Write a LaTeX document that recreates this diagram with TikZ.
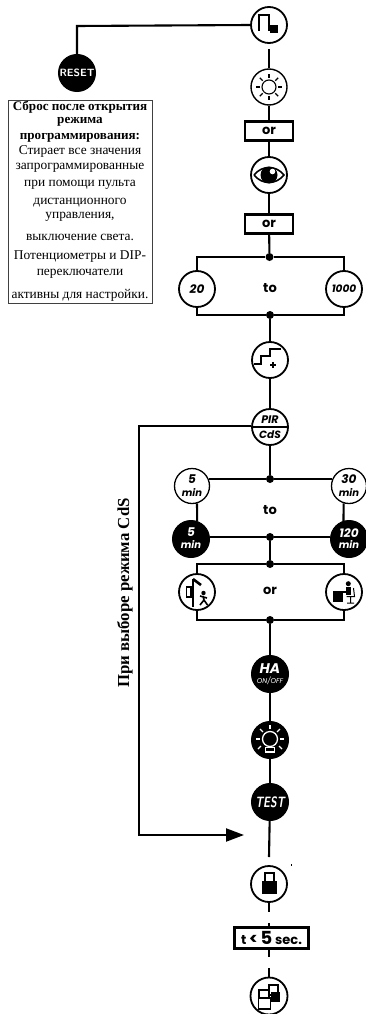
\documentclass[tikz,border=0pt]{standalone}
\usepackage{fontspec}
\setmainfont{Liberation Serif}
\newfontfamily\signfont{Poppins}
\usetikzlibrary{arrows.meta}

\newcommand{\fs}[1]{\fontsize{#1}{#1}\selectfont}

\tikzset{
  wire/.style={line width=2.1pt},
  sign/.style={circle,draw,line width=1.8pt,fill=white,minimum size=36pt,inner sep=0pt,font=\signfont\bfseries\itshape\fs{11}},
  blacksign/.style={circle,draw,line width=1pt,fill=black,text=white,minimum size=37pt,inner sep=0pt,font=\signfont\bfseries\itshape\fs{11}},
  orbox/.style={draw,line width=2.4pt,fill=white,minimum width=48pt,minimum height=19pt,inner sep=0pt,font=\signfont\bfseries\fs{13}},
  junction/.style={circle,fill=black,minimum size=8pt,inner sep=0pt},
  word/.style={font=\signfont\bfseries\fs{13}},
  noteb/.style={font=\bfseries\fs{13.1}},
  noter/.style={font=\fs{13.4}}
}

\begin{document}
\begin{tikzpicture}[x=1pt,y=-1pt,>={Triangle[length=18pt,width=13pt]}]
\useasboundingbox (0,0) rectangle (366,1014);

% left side
\node[blacksign,font=\sffamily\bfseries\fs{10.5}] (reset) at (77,73) {RESET};
\node[draw,line width=1pt,draw=black!75,minimum width=144pt,minimum height=203pt,inner sep=0pt] (notebox) at (80,202) {};
\foreach \y/\t in {107/Сброс после открытия,122/режима,138/программирования:}
    \node[noteb] (noteb-\y) at (80,\y) {\t};
\foreach \y/\t in {151/Стирает все значения,168/запрограммированные,185/при помощи пульта,203/дистанционного,217/{управления,},237/выключение света.,257/Потенциометры и DIP-,274/переключатели,295/активны для настройки.}
    \node[noter] (noter-\y) at (80,\y) {\t};

% main column
\node[sign] (open) at (269,25) {};
\node[sign,line width=1.4pt] (sun) at (269,87) {};
\node[orbox] (or1) at (269,131) {or};
\node[sign] (eye) at (269,175) {};
\node[orbox] (or2) at (269,224) {or};
\node[junction] (j1) at (269.5,257) {};
\node[sign,font=\signfont\bfseries\itshape\fs{12}] (v20) at (197,289) {20};
\node[sign,font=\signfont\bfseries\itshape\fs{10.5}] (v1000) at (344,289) {1000};
\node[word] (to1) at (270,288) {to};
\node[junction] (j2) at (270,315) {};
\node[sign] (stairs) at (270,360) {};
\node[sign] (pir) at (270,427) {};
\node[junction] (j3) at (270,479) {};
\node[sign,minimum size=35pt,line width=1.3pt] (w5) at (192,486) {};
\node[sign,minimum size=35pt,line width=1.3pt] (w30) at (349,486) {};
\node[blacksign] (k5) at (191,539) {};
\node[blacksign] (k120) at (349,539) {};
\node[word] (to2) at (270,510) {to};
\node[junction] (j4) at (270,537) {};
\node[junction] (j5) at (270,564) {};
\node[sign] (door) at (197,592) {};
\node[sign] (desk) at (344,592) {};
\node[word] (or3) at (270,591) {or};
\node[junction] (j6) at (270,620) {};
\node[blacksign] (ha) at (270,674) {};
\node[blacksign] (bulb) at (270,740) {};
\node[blacksign] (test) at (270,802) {};
\node[sign] (lock) at (269,884) {};
\node[orbox,minimum width=74pt,minimum height=21pt,font=\signfont\bfseries\fs{13}] (tbox) at (271.5,938) {t {\fs{16}<} {\fs{18}5} sec.};
\node[sign,minimum size=37pt] (close) at (269,996) {};

% free ends of the broken line
\coordinate (gap1) at (269,49);
\coordinate (gap2) at (269,857);
\coordinate (gap3) at (269,912);
\coordinate (gap4) at (269,923);
\coordinate (gap5) at (269,957);
\coordinate (gap6) at (269,968);
\coordinate (corner1) at (77,26);
\coordinate (corner2) at (139,426);
\coordinate (corner3) at (139,835);
\coordinate (tip) at (244,835);
\coordinate (tbtop) at (269,927);
\coordinate (tbbot) at (269,949);

\draw[wire] (open.west) -- (corner1) -- (reset);
\draw[wire] (gap1) -- (sun);
\draw[wire] (sun) -- (or1);
\draw[wire] (or1) -- (eye);
\draw[wire] (eye) -- (or2);
\draw[wire] (or2) -- (j1);
\draw[wire] (v20) |- (j1) -| (v1000);
\draw[wire] (v20) |- (j2) -| (v1000);
\draw[wire] (j2) -- (stairs);
\draw[wire] (stairs) -- (pir);
\draw[wire] (pir) -- (j3);
\draw[wire] (w5.24 |- j3) -- (j3) -- (w30.156 |- j3);
\draw[wire] (w5.-74) -- (k5.71);
\draw[wire] (w30.-107) -- (k120.107);
\draw[wire] (k5.4 |- j4) -- (j4) -- (k120.176 |- j4);
\draw[wire] (j4) -- (j5);
\draw[wire] (door) |- (j5) -| (desk);
\draw[wire] (door) |- (j6) -| (desk);
\draw[wire] (j6) -- (ha);
\draw[wire] (ha) -- (bulb);
\draw[wire] (bulb) -- (test);
\draw[wire] (test) -- (gap2);
\draw[wire] (lock) -- (gap3);
\draw[wire] (gap4) -- (tbtop);
\draw[wire] (tbbot) -- (gap5);
\draw[wire] (gap6) -- (close);
\draw[wire,->] (pir.west |- corner2) -- (corner2) -- (corner3) -- (tip);

\node[font=\bfseries\fs{16.8},rotate=90] (cdslabel) at (125,593) {При выборе режима CdS};

% texts inside the circles
\node[font=\signfont\bfseries\itshape\fs{11}] (pirtop) at (270,420) {PIR};
\node[font=\signfont\bfseries\itshape\fs{10.5}] (pirbot) at (270,435) {CdS};
\node[font=\signfont\bfseries\itshape\fs{12}] (w5a) at (192,479) {5};
\node[font=\signfont\bfseries\itshape\fs{10}] (w5b) at (192,492) {min};
\node[font=\signfont\bfseries\itshape\fs{12}] (w30a) at (349,479) {30};
\node[font=\signfont\bfseries\itshape\fs{10}] (w30b) at (349,492) {min};
\node[text=white,font=\signfont\bfseries\itshape\fs{12}] (k5a) at (191,532) {5};
\node[text=white,font=\signfont\bfseries\itshape\fs{10}] (k5b) at (191,544) {min};
\node[text=white,font=\signfont\bfseries\itshape\fs{12}] (k120a) at (349,533) {120};
\node[text=white,font=\signfont\bfseries\itshape\fs{10}] (k120b) at (349,544) {min};
\node[text=white,font=\signfont\bfseries\itshape\fs{14}] (haa) at (270,669) {HA};
\node[text=white,font=\signfont\itshape\fs{7}] (hab) at (270,681) {ON/OFF};
\node[text=white,xscale=.72,font=\sffamily\bfseries\itshape\fs{15}] (testa) at (270,802) {TEST};

% icons
\begin{scope}[shift={(open)}]
    \draw[line width=2pt] (-10,6) -- (-10,-10) -- (0,-10) -- (0,6);
    \fill (1,0) rectangle (9,8);
\end{scope}
\begin{scope}[shift={(sun)}]
    \draw[line width=1.1pt] (0,0) circle (7);
    \foreach \a in {0,45,...,315}
        \draw[line width=1.1pt] (\a:9) -- (\a:13);
\end{scope}
\begin{scope}[shift={(eye)}]
    \draw[line width=1.6pt] (-15,0) .. controls (-7,-10) and (7,-10) .. (15,0) .. controls (7,10) and (-7,10) .. (-15,0);
    \fill (0,0) circle (8.5);
    \fill[white] (3.5,-3.5) circle (2.8);
\end{scope}
\begin{scope}[shift={(stairs)}]
    \draw[line width=2pt] (-16,4) -- (-9,4) -- (-9,-4) -- (0,-4) -- (0,-11) -- (11,-11);
    \draw[line width=1.5pt] (0,5) -- (6,5) (3,2) -- (3,8);
\end{scope}
\draw[line width=2pt] (pir.west) -- (pir.east);
\begin{scope}[shift={(door)}]
    \draw[line width=2pt] (-4,-13) -- (-4,15);
    \draw[line width=2.6pt] (-4,-13) -- (4,-7);
    \draw[line width=1.2pt] (-10.5,-5) rectangle (-6,5);
    \fill (6.5,1) circle (2.2);
    \draw[line width=1.6pt] (6,4) -- (7,8) -- (3,13) (7,8) -- (10.5,13) (3,4) -- (10,6);
\end{scope}
\begin{scope}[shift={(desk)}]
    \fill (-10.7,-.7) rectangle (-.7,10.3);
    \fill (-10.7,-.7) rectangle (4,1);
    \fill (4.3,-8.3) circle (2.5);
    \fill (1.7,-5) rectangle (6.5,2.7);
    \draw[line width=1pt] (9.5,-4) -- (10.5,4.5) -- (2.5,4.5) (6.5,4.5) -- (6.5,11) (3,11) -- (10,11);
\end{scope}
\begin{scope}[shift={(bulb)}]
    \draw[white,line width=1.3pt] (0,-1) circle (7.5);
    \foreach \a in {-180,-135,-90,-45,0}
        \draw[white,line width=1.3pt] (0,-1) ++(\a:10) -- ++(\a:4);
    \draw[white,line width=1.3pt] (-9,6) -- (-12,9) (9,6) -- (12,9);
    \draw[white,line width=1.2pt] (-4.5,7.5) rectangle (4.5,12);
\end{scope}
\begin{scope}[shift={(lock)}]
    \draw[line width=1.6pt] (-4,-3) -- (-4,-11) -- (5,-11) -- (5,-3);
    \fill (-7.5,-3) rectangle (7.5,10);
\end{scope}
\draw[line width=.6pt] (291,864) -- (291,866);
\begin{scope}[shift={(close)}]
    \draw[line width=1.2pt] (0,-11) rectangle (9,-1);
    \fill (2,-4) rectangle (11,6);
    \draw[line width=1.2pt,fill=white] (-10,-6) rectangle (0,2);
    \draw[line width=1.2pt,fill=white] (-10.5,2) rectangle (1.5,13);
\end{scope}

\end{tikzpicture}
\end{document}
